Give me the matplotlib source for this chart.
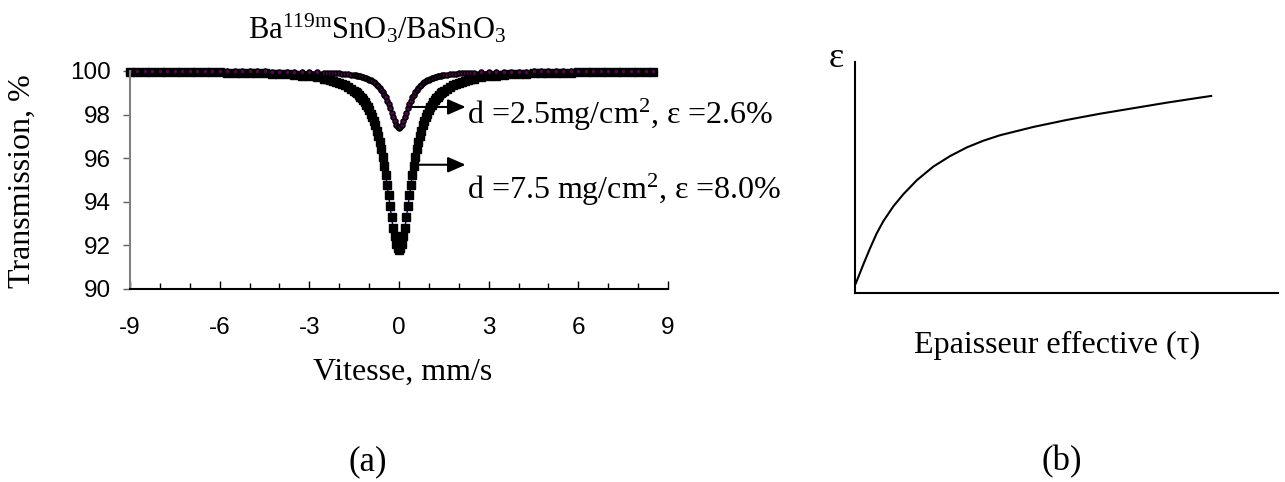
import numpy as np
import matplotlib
matplotlib.use("Agg")
import matplotlib.pyplot as plt
from matplotlib.ticker import MultipleLocator

plt.rcParams['font.family'] = ['Liberation Serif', 'DejaVu Serif']
plt.rcParams['mathtext.fontset'] = 'custom'
plt.rcParams['mathtext.rm'] = 'Liberation Serif'
plt.rcParams['mathtext.it'] = 'Liberation Serif:italic'
plt.rcParams['axes.unicode_minus'] = False

# velocity channels (mm/s): coarse in the wings, fine across the line
vel = np.round(np.concatenate([
    np.arange(-9.0, -2.49, 0.25),
    np.arange(-2.4, -1.59, 0.1),
    np.arange(-1.5, 1.51, 0.05),
    np.arange(1.6, 2.41, 0.1),
    np.arange(2.5, 8.51, 0.25),
]), 2)

# d = 7.5 mg/cm2 absorber
trans_thick = [
    99.97, 99.97, 99.97, 99.97, 99.96, 99.96, 99.96, 99.96, 99.95, 99.95,
    99.95, 99.94, 99.94, 99.93, 99.92, 99.92, 99.91, 99.90, 99.89, 99.87,
    99.86, 99.84, 99.82, 99.79, 99.75, 99.71, 99.65,
    99.62, 99.59, 99.55, 99.51, 99.46, 99.41, 99.35, 99.27, 99.19,
    99.09, 99.03, 98.97, 98.90, 98.83, 98.75, 98.66, 98.56, 98.46, 98.33,
    98.20, 98.05, 97.89, 97.70, 97.50, 97.27, 97.01, 96.73, 96.41, 96.05,
    95.66, 95.24, 94.78, 94.29, 93.79, 93.29, 92.82, 92.41, 92.08, 91.87,
    91.80,
    91.87, 92.08, 92.41, 92.82, 93.29, 93.79, 94.29, 94.78, 95.24, 95.66,
    96.05, 96.41, 96.73, 97.01, 97.27, 97.50, 97.70, 97.89, 98.05, 98.20,
    98.33, 98.46, 98.56, 98.66, 98.75, 98.83, 98.90, 98.97, 99.03, 99.09,
    99.19, 99.27, 99.35, 99.41, 99.46, 99.51, 99.55, 99.59, 99.62,
    99.65, 99.71, 99.75, 99.79, 99.82, 99.84, 99.86, 99.87, 99.89, 99.90,
    99.91, 99.92, 99.92, 99.93, 99.94, 99.94, 99.95, 99.95, 99.95, 99.96,
    99.96, 99.96, 99.96, 99.97, 99.97,
]

# d = 2.5 mg/cm2 absorber
trans_thin = [
    99.99, 99.99, 99.99, 99.99, 99.99, 99.99, 99.99, 99.99, 99.99, 99.99,
    99.99, 99.99, 99.99, 99.99, 99.98, 99.98, 99.98, 99.98, 99.98, 99.97,
    99.97, 99.97, 99.96, 99.96, 99.95, 99.94, 99.93,
    99.92, 99.92, 99.91, 99.90, 99.89, 99.88, 99.87, 99.85, 99.83,
    99.81, 99.80, 99.79, 99.77, 99.75, 99.74, 99.72, 99.69, 99.67, 99.64,
    99.61, 99.57, 99.53, 99.49, 99.44, 99.38, 99.31, 99.23, 99.14, 99.04,
    98.92, 98.79, 98.64, 98.47, 98.28, 98.08, 97.88, 97.69, 97.54, 97.44,
    97.40,
    97.44, 97.54, 97.69, 97.88, 98.08, 98.28, 98.47, 98.64, 98.79, 98.92,
    99.04, 99.14, 99.23, 99.31, 99.38, 99.44, 99.49, 99.53, 99.57, 99.61,
    99.64, 99.67, 99.69, 99.72, 99.74, 99.75, 99.77, 99.79, 99.80, 99.81,
    99.83, 99.85, 99.87, 99.88, 99.89, 99.90, 99.91, 99.92, 99.92,
    99.93, 99.94, 99.95, 99.96, 99.96, 99.97, 99.97, 99.97, 99.98, 99.98,
    99.98, 99.98, 99.98, 99.99, 99.99, 99.99, 99.99, 99.99, 99.99, 99.99,
    99.99, 99.99, 99.99, 99.99, 99.99,
]

# schematic efficiency vs effective thickness
tau = [0.02, 0.20, 0.35, 0.51, 0.67, 0.91, 1.14, 1.46, 1.85, 2.25,
       2.64, 3.03, 3.43, 4.22, 5.00, 5.79, 6.58, 7.37, 8.16, 8.42]
eps = [0.42, 1.25, 1.91, 2.57, 3.11, 3.76, 4.27, 4.88, 5.47, 5.93,
       6.30, 6.59, 6.83, 7.19, 7.49, 7.76, 8.00, 8.24, 8.46, 8.53]

W, H = 1285, 482
fig = plt.figure(figsize=(W / 100, H / 100), dpi=100)

# ---- (a) spectra ----
ax = fig.add_axes([130 / W, 1 - 289 / H, 538 / W, 218 / H])
ax.plot(vel, trans_thick, color='#000080', lw=1, marker='s', ms=5.8,
        mfc='black', mec='black', clip_on=False)
ax.plot(vel, trans_thin, color='black', lw=1.5, marker='o', ms=3.6,
        mfc='#5a005a', mec='black', mew=1.1, clip_on=False)

ax.set_xlim(-9, 9)
ax.set_ylim(90, 100)
ax.xaxis.set_major_locator(MultipleLocator(3))
ax.xaxis.set_minor_locator(MultipleLocator(1))
ax.yaxis.set_major_locator(MultipleLocator(2))
for s in ['top', 'right']:
    ax.spines[s].set_visible(False)
ax.spines['left'].set_color('#808080')
ax.spines['left'].set_linewidth(1.5)
ax.spines['bottom'].set_linewidth(1.5)
ax.tick_params(axis='x', which='major', direction='in', length=6, width=1,
               pad=20, labelsize=17.5)
ax.tick_params(axis='x', which='minor', direction='in', length=4.5, width=1)
ax.tick_params(axis='y', direction='out', length=5, width=1, color='#606060',
               pad=9, labelsize=17.5)
for lab in ax.get_xticklabels() + ax.get_yticklabels():
    lab.set_fontfamily('Liberation Sans')

ax.set_xlabel('Vitesse, mm/s', fontsize=23)
ax.xaxis.label.set_va('center')
ax.xaxis.set_label_coords(0.506, -0.381)
ax.set_ylabel('Transmission, %', fontsize=23)
ax.yaxis.label.set_va('center')
ax.yaxis.set_label_coords(-0.2, 0.495)
ax.text(0.459, 1.147, r'$\mathrm{Ba^{119m}SnO_3/BaSnO_3}$', transform=ax.transAxes,
        ha='center', va='baseline', fontsize=22)

arrow = dict(arrowstyle='-|>,head_length=0.8,head_width=0.35', mutation_scale=13.5,
             lw=1.5, color='black', shrinkA=0, shrinkB=0)
ax.annotate('', xy=(2.23, 98.35), xytext=(0.4, 98.35), arrowprops=arrow,
            annotation_clip=False)
ax.annotate('', xy=(2.23, 95.7), xytext=(0.6, 95.7), arrowprops=arrow,
            annotation_clip=False)
ax.text(2.27, 97.57, 'd =2.5mg/cm$^{2}$, ε =2.6%', fontsize=23, va='baseline',
        clip_on=False)
ax.text(2.27, 94.13, 'd =7.5 mg/cm$^{2}$, ε =8.0%', fontsize=23, va='baseline',
        clip_on=False)

# ---- (b) schematic ----
ax2 = fig.add_axes([855 / W, 1 - 293 / H, 423 / W, 231 / H])
ax2.plot(tau, eps, color='black', lw=1.5)
ax2.set_xlim(0, 10)
ax2.set_ylim(0, 10)
for s in ['top', 'right']:
    ax2.spines[s].set_visible(False)
ax2.spines['left'].set_linewidth(1.5)
ax2.spines['bottom'].set_linewidth(1.5)
ax2.set_xticks([])
ax2.set_yticks([])
ax2.set_xlabel('Epaisseur effective (τ)', fontsize=23)
ax2.xaxis.label.set_va('center')
ax2.xaxis.set_label_coords(0.478, -0.225)
ax2.text(-0.45, 10.13, 'ε', fontsize=26, ha='center', va='center', clip_on=False)

fig.text(368 / W, 1 - 462 / H, '(a)', fontsize=25, ha='center', va='center')
fig.text(1062 / W, 1 - 462 / H, '(b)', fontsize=25, ha='center', va='center')

fig.savefig('out.png', dpi=100)
